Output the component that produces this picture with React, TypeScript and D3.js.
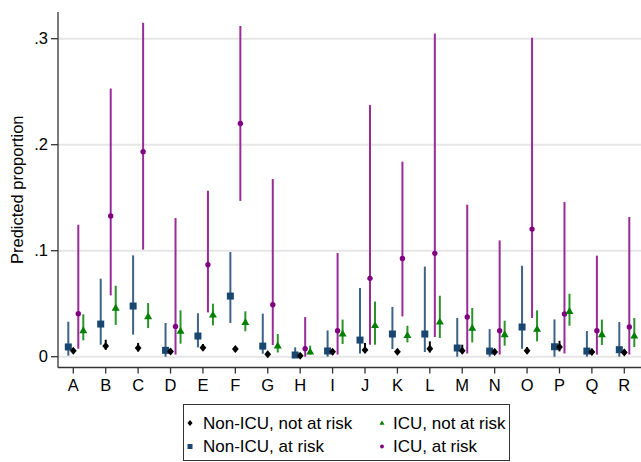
import React from "react";
import * as d3 from "d3";

const categories = ["A","B","C","D","E","F","G","H","I","J","K","L","M","N","O","P","Q","R"];
const yTicks = [0, 0.1, 0.2, 0.3];
const yTickLabels = ["0", ".1", ".2", ".3"];

// Non-ICU, not at risk (diamond)
const nonIcuNotEst = [.0057,.010,.0082,.005,.0085,.0072,.0022,.001,.0047,.0063,.0047,.0075,.0057,.0044,.0057,.0092,.0044,.004];
const nonIcuNotLo  = [.0035,.0066,.005,.0025,.006,.005,0,0,.0018,.0035,.003,.004,.003,.0025,.003,.005,.0025,.002];
const nonIcuNotHi  = [.0075,.016,.013,.0075,.012,.0095,.0047,.003,.0073,.013,.007,.0145,.0113,.0075,.009,.015,.0075,.0068];

// Non-ICU, at risk (square)
const nonIcuRiskEst = [.0092,.0308,.0478,.006,.0195,.0572,.010,.0016,.0054,.0157,.0214,.0214,.0082,.0053,.028,.0094,.0053,.0066];
const nonIcuRiskLo  = [.001,.0113,.0208,0,.0088,.0318,.0028,0,0,.003,.0072,.0044,0,0,.0075,0,0,0];
const nonIcuRiskHi  = [.033,.0736,.0956,.0318,.041,.0988,.0406,.0088,.0248,.0648,.047,.085,.0365,.026,.0858,.0352,.0242,.0327];

// ICU, not at risk (triangle)
const icuNotEst = [.0248,.046,.038,.0242,.0396,.0324,.0104,.0047,.0217,.0296,.0201,.033,.027,.021,.026,.0428,.021,.0198];
const icuNotLo  = [.0154,.030,.027,.0123,.0296,.024,.004,.002,.012,.0113,.0135,.0176,.0135,.0104,.0145,.0292,.011,.0092];
const icuNotHi  = [.040,.067,.0506,.0437,.05,.0428,.0214,.0104,.035,.052,.0292,.0575,.046,.034,.0437,.0594,.035,.0365];

// ICU, at risk (circle)
const icuRiskEst = [.0406,.1327,.1934,.0286,.0868,.220,.049,.0075,.0245,.0739,.0927,.0975,.0374,.0245,.1204,.0403,.0245,.028];
const icuRiskLo  = [.0075,.0578,.101,.002,.0418,.147,.011,0,.002,.0113,.038,.0186,.003,.002,.0365,.003,.002,.002];
const icuRiskHi  = [.1245,.253,.315,.1308,.1566,.312,.1676,.0374,.0978,.2374,.184,.305,.1434,.1097,.301,.146,.0953,.1318];

const W = 641, H = 462;
const FONT = "'Liberation Sans', Arial, sans-serif";

type Series = { name: string; est: number[]; lo: number[]; hi: number[]; color: string; ci: string; shape: string; dx: number };

const series: Series[] = [
  { name: "Non-ICU, at risk", est: nonIcuRiskEst, lo: nonIcuRiskLo, hi: nonIcuRiskHi, color: "#1a476f", ci: "#3d6389", shape: "square", dx: -5 },
  { name: "ICU, at risk", est: icuRiskEst, lo: icuRiskLo, hi: icuRiskHi, color: "#800080", ci: "#9a2a9a", shape: "circle", dx: 5 },
  { name: "ICU, not at risk", est: icuNotEst, lo: icuNotLo, hi: icuNotHi, color: "#008000", ci: "#2a942a", shape: "triangle", dx: 10 },
  { name: "Non-ICU, not at risk", est: nonIcuNotEst, lo: nonIcuNotLo, hi: nonIcuNotHi, color: "#000000", ci: "#000000", shape: "diamond", dx: 0 },
];

function marker(shape: string, x: number, y: number, color: string, s: number, key?: string) {
  if (shape === "square") return <rect key={key} x={x - s / 2} y={y - s / 2} width={s} height={s} fill={color} />;
  if (shape === "circle") return <circle key={key} cx={x} cy={y} r={s / 2.6} fill={color} />;
  if (shape === "triangle") {
    const h = s * 0.85;
    return <path key={key} d={`M${x},${y - h * 0.6}L${x + s / 2},${y + h * 0.4}L${x - s / 2},${y + h * 0.4}Z`} fill={color} />;
  }
  const r = s / 2;
  return <path key={key} d={`M${x},${y - r}L${x + r * 0.85},${y}L${x},${y + r}L${x - r * 0.85},${y}Z`} fill={color} />;
}

export default function App() {
  const x = d3.scalePoint<string>().domain(categories).range([73.3, 624.3]);
  const y = d3.scaleLinear().domain([0, 0.3]).range([356.7, 38.7]);
  const axisX = 58, axisBottom = 367.5, axisTop = 12;

  return (
    <svg width={W} height={H} style={{ position: "absolute", left: 0, top: 0, background: "#fff" }} fontFamily={FONT}>
      <rect width={W} height={H} fill="#fff" />
      {yTicks.map((t) => (
        <line key={"g" + t} x1={axisX} x2={W} y1={y(t)} y2={y(t)} stroke="#e6e6e6" strokeWidth={2} />
      ))}
      {series.map((s) => (
        <g key={s.name}>
          {categories.map((c, i) => {
            const cx = (x(c) as number) + s.dx;
            return (
              <g key={c}>
                <line x1={cx} x2={cx} y1={y(s.lo[i])} y2={y(s.hi[i])} stroke={s.ci} strokeWidth={2} />
                {marker(s.shape, cx, y(s.est[i]), s.color, s.shape === "circle" ? 7 : s.shape === "square" ? 7 : 8)}
              </g>
            );
          })}
        </g>
      ))}
      <line x1={axisX} x2={axisX} y1={axisTop} y2={axisBottom} stroke="#333" strokeWidth={1.3} />
      <line x1={axisX} x2={W} y1={axisBottom} y2={axisBottom} stroke="#333" strokeWidth={1.3} />
      {yTicks.map((t, i) => (
        <g key={"t" + t}>
          <line x1={axisX - 7} x2={axisX} y1={y(t)} y2={y(t)} stroke="#333" strokeWidth={1.3} />
          <text x={axisX - 10} y={y(t)} dy="0.35em" textAnchor="end" fontSize={16.5} fill="#000">{yTickLabels[i]}</text>
        </g>
      ))}
      {categories.map((c) => (
        <g key={"x" + c}>
          <line x1={x(c)} x2={x(c)} y1={axisBottom} y2={axisBottom + 6} stroke="#333" strokeWidth={1.3} />
          <text x={x(c)} y={391} textAnchor="middle" fontSize={16.5} fill="#000">{c}</text>
        </g>
      ))}
      <text transform={`translate(23,${(axisTop + axisBottom) / 2}) rotate(-90)`} textAnchor="middle" fontSize={16.5} fill="#000">Predicted proportion</text>
      <rect x={183.5} y={404.5} width={326} height={56} fill="#fff" stroke="#333" strokeWidth={1} />
      {marker("diamond", 190, 423, "#000", 6)}
      <text x={203} y={423} dy="0.35em" fontSize={17}>Non-ICU, not at risk</text>
      {marker("square", 190, 446.5, "#1a476f", 5)}
      <text x={203} y={446.5} dy="0.35em" fontSize={17}>Non-ICU, at risk</text>
      {marker("triangle", 382, 423, "#008000", 5)}
      <text x={393} y={423} dy="0.35em" fontSize={17}>ICU, not at risk</text>
      {marker("circle", 382, 446.5, "#800080", 5)}
      <text x={393} y={446.5} dy="0.35em" fontSize={17}>ICU, at risk</text>
    </svg>
  );
}
